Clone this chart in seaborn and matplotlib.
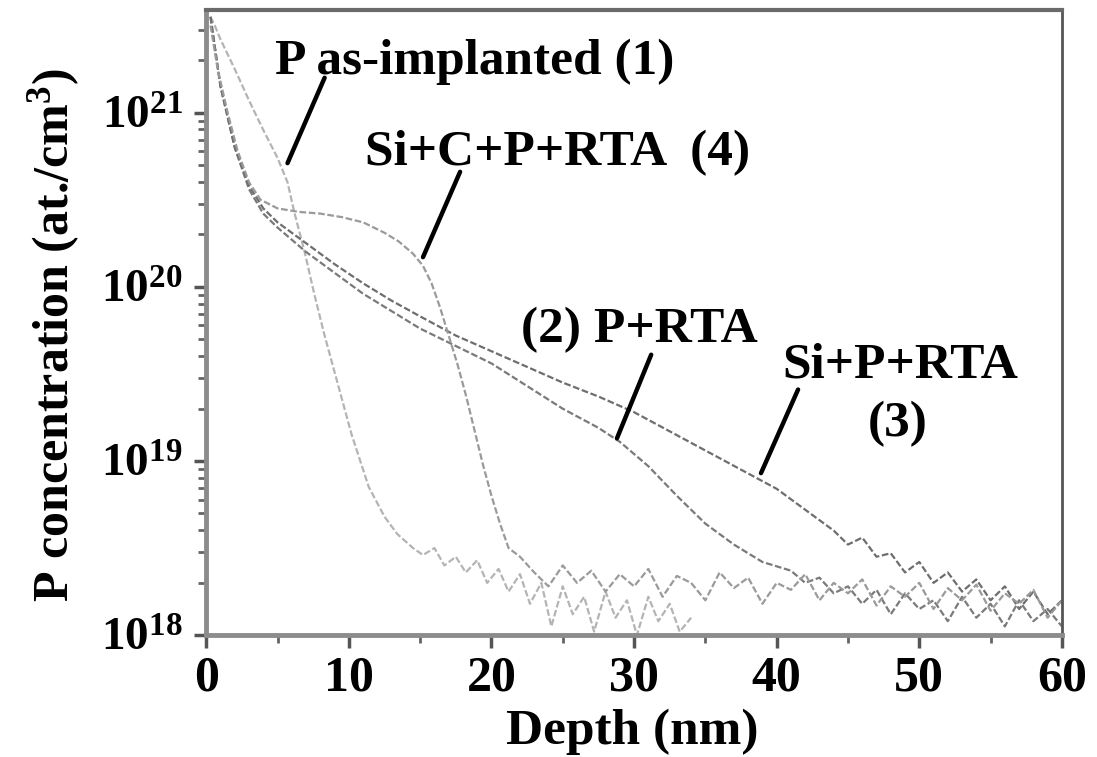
import numpy as np
import pandas as pd
import matplotlib
matplotlib.use("Agg")
import matplotlib.pyplot as plt
import matplotlib.ticker as mticker
import seaborn as sns

# ── data (depth in nm, concentration as log10 of at./cm3) ──
depth_impl = [0.3, 0.6, 1, 2, 3, 4, 5, 5.7, 6.2, 6.9, 7.6, 8.3, 9.2, 10.2, 11.4,
              12.5, 13.4, 14.5, 15.2, 16, 16.7, 17.5, 18.2, 19, 19.7, 20.5,
              21.2, 22, 22.7, 23.5, 24.2, 25, 25.7, 26.5, 27.2, 28, 28.7, 29.5,
              30.2, 31, 31.7, 32.5, 33.2, 34]
logc_impl = [21.55, 21.5, 21.42, 21.25, 21.07, 20.9, 20.74, 20.6, 20.42, 20.2,
             19.95, 19.72, 19.45, 19.15, 18.85, 18.68, 18.58, 18.5, 18.46,
             18.5, 18.4, 18.45, 18.36, 18.43, 18.3, 18.38, 18.25, 18.35, 18.18,
             18.3, 18.05, 18.28, 18.12, 18.22, 18.02, 18.25, 18.1, 18.2, 18.0,
             18.22, 18.08, 18.18, 18.02, 18.1]

depth_sicp = [0.3, 0.8, 1.5, 2.2, 3, 3.8, 5, 6.5, 8, 9.5, 11, 12.5, 13.5, 14.5,
              15.2, 15.8, 16.4, 17, 17.6, 18.2, 18.8, 19.4, 20, 20.6, 21.2, 22,
              23, 24, 25, 26, 27, 28, 29, 30, 31, 32, 33, 34, 35, 36, 37, 38,
              39, 40, 41, 42, 43, 44, 45, 46, 47, 48, 49, 50, 51, 52, 53, 54,
              55, 56, 57, 58, 59, 60]
logc_sicp = [21.5, 21.25, 21.0, 20.78, 20.6, 20.5, 20.45, 20.43, 20.42, 20.4,
             20.37, 20.31, 20.26, 20.19, 20.12, 20.02, 19.88, 19.72, 19.56,
             19.38, 19.18, 18.98, 18.8, 18.64, 18.5, 18.45, 18.36, 18.28, 18.4,
             18.3, 18.37, 18.25, 18.35, 18.28, 18.38, 18.22, 18.34, 18.3, 18.2,
             18.36, 18.27, 18.33, 18.18, 18.3, 18.26, 18.35, 18.2, 18.3, 18.24,
             18.32, 18.17, 18.28, 18.22, 18.3, 18.15, 18.27, 18.2, 18.29,
             18.14, 18.24, 18.18, 18.26, 18.1, 18.2]

depth_sip = [0.3, 1, 2, 3, 4, 5, 7, 9, 11, 13, 15, 17.5, 20, 22.5, 25, 27.5,
             30, 32.5, 35, 37.5, 40, 42, 44, 45, 46, 47, 48, 49, 50, 51, 52, 53,
             54, 55, 56, 57, 58, 59, 60]
logc_sip = [21.55, 21.15, 20.8, 20.58, 20.45, 20.37, 20.25, 20.13, 20.02,
            19.92, 19.83, 19.72, 19.63, 19.54, 19.45, 19.37, 19.28, 19.17,
            19.06, 18.95, 18.84, 18.72, 18.6, 18.52, 18.56, 18.45, 18.47,
            18.36, 18.42, 18.3, 18.36, 18.25, 18.32, 18.2, 18.28, 18.15, 18.25,
            18.12, 18.2]

depth_p = [0.3, 1, 2, 3, 4, 5, 7, 9, 11, 13, 15, 17.5, 20, 22.5, 25, 27.5,
           29, 31, 33, 35, 37, 39, 41, 42, 43, 44, 45, 46, 47, 48, 49, 50, 51,
           52, 53, 54, 55, 56, 57, 58, 59, 60]
logc_p = [21.55, 21.15, 20.8, 20.56, 20.42, 20.34, 20.2, 20.08, 19.96, 19.86,
          19.76, 19.66, 19.56, 19.43, 19.3, 19.19, 19.11, 18.97, 18.8, 18.64,
          18.52, 18.42, 18.37, 18.3, 18.33, 18.24, 18.28, 18.18, 18.26, 18.12,
          18.24, 18.15, 18.2, 18.08, 18.22, 18.1, 18.18, 18.05, 18.2, 18.08,
          18.15, 18.05]

curves = [
    ("P as-implanted (1)", depth_impl, logc_impl, "#b4b4b4"),
    ("P+RTA (2)", depth_p, logc_p, "#7a7a7a"),
    ("Si+P+RTA (3)", depth_sip, logc_sip, "#6e6e6e"),
    ("Si+C+P+RTA (4)", depth_sicp, logc_sicp, "#9a9a9a"),
]

sns.set_theme(style="ticks")
plt.rcParams["font.family"] = ["Liberation Serif", "DejaVu Serif"]
plt.rcParams["font.weight"] = "bold"
plt.rcParams["text.color"] = "black"
plt.rcParams["axes.labelcolor"] = "black"
plt.rcParams["mathtext.fontset"] = "custom"
plt.rcParams["mathtext.rm"] = "Liberation Serif:bold"
plt.rcParams["mathtext.bf"] = "Liberation Serif:bold"
plt.rcParams["mathtext.it"] = "Liberation Serif:bold"

fig = plt.figure(figsize=(10.97, 7.57), dpi=100)
ax = fig.add_axes([0.188, 0.161, 0.780, 0.826])

for name, d, lc, col in curves:
    sns.lineplot(x=d, y=10 ** np.array(lc), ax=ax, color=col, lw=1.6,
                 linestyle=(0, (3, 1.2)), sort=False)

ax.set_yscale("log")
ax.set_xlim(0, 60)
ax.set_ylim(1e18, 10 ** 21.59)

ax.xaxis.set_major_locator(mticker.MultipleLocator(10))
ax.xaxis.set_minor_locator(mticker.MultipleLocator(5))
ax.set_yticks([1e18, 1e19, 1e20, 1e21])
ax.set_yticklabels([r"$\mathbf{10^{18}}$", r"$\mathbf{10^{19}}$",
                    r"$\mathbf{10^{20}}$", r"$\mathbf{10^{21}}$"])
ax.yaxis.set_minor_locator(mticker.LogLocator(base=10, subs=np.arange(2, 10)))
ax.yaxis.set_minor_formatter(mticker.NullFormatter())

ax.tick_params(axis="x", which="major", labelsize=36, pad=6)
ax.tick_params(axis="y", which="major", labelsize=34, pad=8)
ax.tick_params(axis="both", which="major", direction="out",
               length=9, width=2.5, color="#555555", labelcolor="black")
ax.tick_params(axis="both", which="minor", direction="out",
               length=6, width=2, color="#666666")
for lab in ax.get_xticklabels():
    lab.set_fontweight("bold")

for side in ["left", "bottom"]:
    ax.spines[side].set_color("#8c8c8c")
    ax.spines[side].set_linewidth(3.5)
ax.spines["top"].set_color("#6a6a6a")
ax.spines["top"].set_linewidth(3)
ax.spines["right"].set_color("#555555")
ax.spines["right"].set_linewidth(2)

ax.set_xlabel("Depth (nm)", fontsize=37, fontweight="bold", color="black")
ax.set_ylabel(r"P concentration (at./cm$^3$)", fontsize=36,
              fontweight="bold", color="black")
ax.xaxis.set_label_coords(0.498, -0.118)
ax.yaxis.set_label_coords(-0.178, 0.48)
ax.yaxis.label.set_va("center")
ax.xaxis.label.set_va("top")

# ── annotations ──
txt_kw = dict(fontsize=37, fontweight="bold", color="black")
arrow_kw = dict(arrowstyle="-", color="black", lw=3.2, shrinkA=0, shrinkB=0)

ax.annotate("", xy=(5.7, 10 ** 20.71), xytext=(8.3, 10 ** 21.2),
            arrowprops=arrow_kw)
ax.text(4.8, 10 ** 21.22, "P as-implanted (1)", ha="left", va="baseline", **txt_kw)

ax.annotate("", xy=(15.2, 10 ** 20.17), xytext=(17.8, 10 ** 20.66),
            arrowprops=arrow_kw)
ax.text(11.1, 10 ** 20.7, "Si+C+P+RTA  (4)", ha="left", va="baseline", **txt_kw)

ax.annotate("", xy=(28.8, 10 ** 19.13), xytext=(31.2, 10 ** 19.61),
            arrowprops=arrow_kw)
ax.text(22.1, 10 ** 19.68, "(2) P+RTA", ha="left", va="baseline", **txt_kw)

ax.annotate("", xy=(38.9, 10 ** 18.93), xytext=(41.5, 10 ** 19.41),
            arrowprops=arrow_kw)
ax.text(40.4, 10 ** 19.48, "Si+P+RTA", ha="left", va="baseline", **txt_kw)
ax.text(48.5, 10 ** 19.14, "(3)", ha="center", va="baseline", **txt_kw)

fig.savefig("out.png", dpi=100)
